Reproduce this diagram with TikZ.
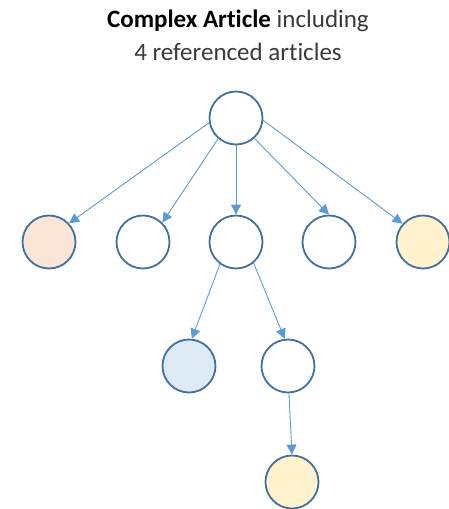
\documentclass[tikz,border=0pt]{standalone}
\usepackage{fontspec}
\setmainfont[Ligatures=NoCommon]{Carlito}
\usetikzlibrary{arrows.meta}
\definecolor{circb}{HTML}{41719C}
\definecolor{arrc}{HTML}{5B9BD5}
\definecolor{fsalmon}{HTML}{FBE5D6}
\definecolor{fblue}{HTML}{DEEBF7}
\definecolor{fyellow}{HTML}{FFF2CC}
\definecolor{txt}{HTML}{3A3A3A}
\tikzset{
  art/.style={circle, draw=circb, line width=1.8pt, minimum size=53pt, inner sep=0pt, fill=white},
  arr/.style={draw=arrc, line width=0.9pt, -{Triangle[length=10pt,width=10pt]}},
}
\begin{document}
\begin{tikzpicture}[x=1pt,y=-1pt]
\useasboundingbox (0,0) rectangle (448,509);
\node[font=\fontsize{25}{33}\selectfont, color=txt, align=center] (title) at (238,35)
  {\textbf{\color{black}Complex Article} including\\4 referenced articles};
\node[art] (top) at (236,118) {};
\node[art, fill=fsalmon] (a) at (49,242) {};
\node[art] (b) at (143,242) {};
\node[art] (c) at (236,242) {};
\node[art] (d) at (329,242) {};
\node[art, fill=fyellow] (e) at (423,242) {};
\node[art, fill=fblue] (f) at (189,366) {};
\node[art] (g) at (288,366) {};
\node[art, fill=fyellow] (h) at (292,482) {};
\draw[arr] (top.190) -- (a.43);
\draw[arr] (top.229) -- (b.45);
\draw[arr] (top.270) -- (c.90);
\draw[arr] (top.312) -- (d.90);
\draw[arr] (top.355) -- (e.138);
\draw[arr] (c.234) -- (f.84);
\draw[arr] (c.310) -- (g.97);
\draw[arr] (g.272) -- (h.90);
\end{tikzpicture}
\end{document}
